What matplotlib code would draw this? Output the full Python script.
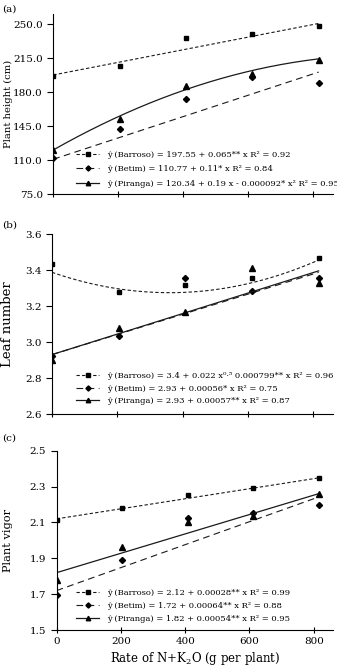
import numpy as np
import matplotlib
matplotlib.use('Agg')
import matplotlib.pyplot as plt
from matplotlib.lines import Line2D

plt.rcParams['font.family'] = ['DejaVu Serif']
plt.rcParams['mathtext.fontset'] = 'dejavuserif'

W, H = 337, 672

doses = [0, 204, 408, 612, 816]
xticks = [0, 200, 400, 600, 800]
cultivars = ['Barroso', 'Betim', 'Piranga']

height_barroso = [196.0, 207.0, 235.6, 239.3, 248.3]
height_betim = [112.1, 142.3, 173.3, 195.3, 189.2]
height_piranga = [120.7, 152.7, 186.4, 199.0, 213.2]

leaf_barroso = [3.433, 3.280, 3.317, 3.354, 3.468]
leaf_betim = [2.925, 3.033, 3.354, 3.283, 3.354]
leaf_piranga = [2.900, 3.076, 3.168, 3.410, 3.330]

vigor_barroso = [2.113, 2.179, 2.253, 2.294, 2.350]
vigor_betim = [1.695, 1.888, 2.123, 2.151, 2.197]
vigor_piranga = [1.779, 1.961, 2.104, 2.136, 2.257]

# trend-line coefficients: constant, x, x^2
trend_height_barroso = [197.55, 0.065]
trend_height_betim = [110.77, 0.11]
trend_height_piranga = [120.34, 0.19, -0.000092]
trend_leaf_barroso = [3.387, -0.000628, 0.000000872]
trend_leaf_betim = [2.93, 0.00056]
trend_leaf_piranga = [2.93, 0.00057]
trend_vigor_barroso = [2.12, 0.00028]
trend_vigor_betim = [1.72, 0.00064]
trend_vigor_piranga = [1.82, 0.00054]

labels_height = ['ŷ (Barroso) = 197.55 + 0.065** x R² = 0.92',
                 'ŷ (Betim) = 110.77 + 0.11* x R² = 0.84',
                 'ŷ (Piranga) = 120.34 + 0.19 x - 0.000092* x² R² = 0.95']
labels_leaf = ['ŷ (Barroso) = 3.4 + 0.022 x⁰·⁵ 0.000799** x R² = 0.96',
               'ŷ (Betim) = 2.93 + 0.00056* x R² = 0.75',
               'ŷ (Piranga) = 2.93 + 0.00057** x R² = 0.87']
labels_vigor = ['ŷ (Barroso) = 2.12 + 0.00028** x R² = 0.99',
                'ŷ (Betim) = 1.72 + 0.00064** x R² = 0.88',
                'ŷ (Piranga) = 1.82 + 0.00054** x R² = 0.95']

yticks_height = [75, 110, 145, 180, 215, 250]
yticks_leaf = [2.6, 2.8, 3.0, 3.2, 3.4, 3.6]
yticks_vigor = [1.5, 1.7, 1.9, 2.1, 2.3, 2.5]

styles = [dict(ls=(0, (3, 2)), marker='s', ms=3.3, lw=0.8),
          dict(ls=(0, (6, 4)), marker='D', ms=3.1, lw=0.8),
          dict(ls='-', marker='^', ms=3.8, lw=0.9)]
col = '#1a1a1a'

fig = plt.figure(figsize=(W / 100, H / 100), dpi=100)


def px_axes(l, t, r, b):
    return fig.add_axes([l / W, 1 - b / H, (r - l) / W, (b - t) / H])


def panel(ax, series, trends, labels, ylim, yticks, ylabel, ylsize, letter,
          leg_xy, spacing):
    xs = np.linspace(0, doses[-1], 200)
    for vals, coef, st in zip(series, trends, styles):
        ax.plot(xs, np.polynomial.polynomial.polyval(xs, coef), color=col,
                ls=st['ls'], lw=st['lw'])
        ax.plot(doses, vals, ls='none', marker=st['marker'], ms=st['ms'],
                color='black')
    ax.set_xlim(0, 860)
    ax.set_ylim(*ylim)
    ax.set_yticks(yticks)
    ax.set_yticklabels(['{:.1f}'.format(v) for v in yticks])
    ax.set_xticks(xticks)
    for s in ['top', 'right']:
        ax.spines[s].set_visible(False)
    for s in ['left', 'bottom']:
        ax.spines[s].set_linewidth(0.8)
    ax.tick_params(axis='y', direction='out', length=4, width=0.8, labelsize=7.5, pad=3.5)
    ax.tick_params(axis='x', direction='inout', length=4, width=0.8, labelsize=7.5, pad=3)
    ax.set_ylabel(ylabel, fontsize=ylsize)
    ax.yaxis.set_label_coords(-(ax.get_position().x0 * W - 8) / (ax.get_position().width * W), 0.5)
    ax.yaxis.label.set_va('center')
    handles = [Line2D([], [], color=col, ls=st['ls'], lw=st['lw'], marker=st['marker'],
                      ms=st['ms'] * 0.85, mfc='black', mec='black') for st in styles]
    fig.legend(handles, labels, loc='upper left',
               bbox_to_anchor=(leg_xy[0] / W, 1 - leg_xy[1] / H),
               bbox_transform=fig.transFigure, frameon=False, fontsize=6,
               handlelength=2.8, handletextpad=0.9, labelspacing=spacing,
               borderpad=0, borderaxespad=0, numpoints=1)
    fig.text(2 / W, 1 - letter[1] / H, letter[0], fontsize=7.5, va='center', ha='left')


ax1 = px_axes(53.3, 14.3, 333, 194)
panel(ax1, [height_barroso, height_betim, height_piranga],
      [trend_height_barroso, trend_height_betim, trend_height_piranga],
      labels_height, (75, 260), yticks_height, 'Plant height (cm)', 7.2,
      ('(a)', 9), (76, 151), 0.75)
ax1.set_xticklabels([])

ax2 = px_axes(52, 234, 333, 414)
panel(ax2, [leaf_barroso, leaf_betim, leaf_piranga],
      [trend_leaf_barroso, trend_leaf_betim, trend_leaf_piranga],
      labels_leaf, (2.6, 3.6), yticks_leaf, 'Leaf number', 9.5,
      ('(b)', 225), (76, 372), 0.55)
ax2.set_xticklabels([])

ax3 = px_axes(56.7, 450.7, 333, 630)
panel(ax3, [vigor_barroso, vigor_betim, vigor_piranga],
      [trend_vigor_barroso, trend_vigor_betim, trend_vigor_piranga],
      labels_vigor, (1.5, 2.5), yticks_vigor, 'Plant vigor', 8.2,
      ('(c)', 438), (76, 589), 0.6)
ax3.set_xticklabels([str(v) for v in xticks])
ax3.set_xlabel('Rate of N+K$_2$O (g per plant)', fontsize=8.5, labelpad=3)

fig.savefig('out.png', dpi=100)
